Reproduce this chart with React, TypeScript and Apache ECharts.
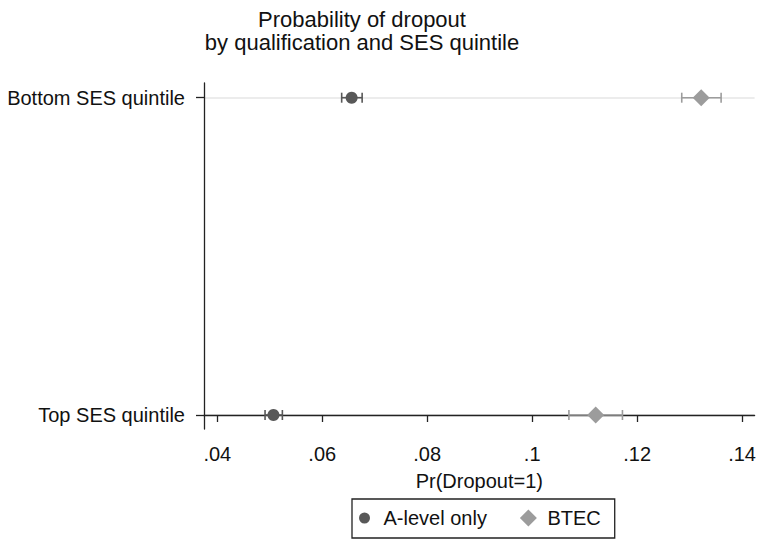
import React, { useEffect, useRef } from "react";
import * as echarts from "echarts";

const categories = ["Top SES quintile", "Bottom SES quintile"];
const aLevelEst = [0.0507, 0.0656];
const aLevelLow = [0.0491, 0.0637];
const aLevelHigh = [0.0524, 0.0676];
const btecEst = [0.1121, 0.1322];
const btecLow = [0.107, 0.1285];
const btecHigh = [0.1172, 0.136];
const xTicks = [0.04, 0.06, 0.08, 0.1, 0.12, 0.14];
const seriesNames = ["A-level only", "BTEC"];

const FONT = "'Liberation Sans', Arial, sans-serif";
const DARK = "#585858";
const LIGHT = "#9c9c9c";

function errorBar(color: string) {
  return (params: any, api: any) => {
    const y = api.value(0);
    const p1 = api.coord([api.value(1), y]);
    const p2 = api.coord([api.value(2), y]);
    const h = 5;
    const style = { stroke: color, lineWidth: 1.6 };
    return {
      type: "group",
      children: [
        { type: "line", shape: { x1: p1[0], y1: p1[1], x2: p2[0], y2: p2[1] }, style },
        { type: "line", shape: { x1: p1[0], y1: p1[1] - h, x2: p1[0], y2: p1[1] + h }, style },
        { type: "line", shape: { x1: p2[0], y1: p2[1] - h, x2: p2[0], y2: p2[1] + h }, style },
      ],
    };
  };
}

export default function App() {
  const ref = useRef<HTMLDivElement>(null);
  useEffect(() => {
    if (!ref.current) return;
    const chart = echarts.init(ref.current, null, { renderer: "svg" });
    const idx = categories.map((_, i) => i);
    chart.setOption({
      animation: false,
      backgroundColor: "#ffffff",
      textStyle: { fontFamily: FONT, color: "#111" },
      title: {
        text: "Probability of dropout\nby qualification and SES quintile",
        left: 362,
        top: 8,
        padding: 0,
        textAlign: "center",
        textStyle: { fontFamily: FONT, fontSize: 22, fontWeight: "normal", color: "#111", lineHeight: 23 },
      },
      grid: { left: 204, right: 0, top: 83, bottom: 110, containLabel: false },
      xAxis: {
        type: "value",
        min: 0.037467,
        max: 0.14238,
        name: "Pr(Dropout=1)",
        nameLocation: "middle",
        nameGap: 42,
        nameTextStyle: { fontFamily: FONT, fontSize: 20, color: "#111" },
        axisLine: { show: true, lineStyle: { color: "#222", width: 1.3 } },
        axisTick: { show: true, customValues: xTicks, length: 7, lineStyle: { color: "#222", width: 1.3 } },
        axisLabel: {
          customValues: xTicks,
          margin: 15,
          fontFamily: FONT,
          fontSize: 20,
          color: "#111",
          formatter: (v: number) => String(v).replace(/^0/, ""),
        },
        splitLine: { show: false },
      },
      yAxis: {
        type: "value",
        min: -0.0441,
        max: 1.0463,
        axisLine: { show: true, lineStyle: { color: "#222", width: 1.3 } },
        axisTick: { show: true, customValues: idx, length: 8, lineStyle: { color: "#222", width: 1.3 } },
        axisLabel: {
          customValues: idx,
          margin: 19,
          fontFamily: FONT,
          fontSize: 20,
          color: "#111",
          formatter: (v: number) => categories[Math.round(v)] ?? "",
        },
        splitLine: { show: false },
      },
      legend: {
        left: 352,
        top: 499,
        padding: [9, 14, 10, 4],
        borderColor: "#222",
        borderWidth: 1.3,
        itemWidth: 24,
        itemHeight: 17,
        itemGap: 33,
        symbolKeepAspect: true,
        textStyle: { fontFamily: FONT, fontSize: 20, color: "#111", padding: [0, 0, 0, 2] },
        data: [
          { name: seriesNames[0], icon: "path://M0,0M17,17M3,8.5a5.5,5.5 0 1,0 11,0a5.5,5.5 0 1,0 -11,0z" },
          { name: seriesNames[1], icon: "path://M0,8.5L8.5,0L17,8.5L8.5,17Z" },
        ],
      },
      series: [
        {
          type: "line",
          data: [],
          silent: true,
          z: 0,
          markLine: {
            silent: true,
            z: 0,
            symbol: "none",
            label: { show: false },
            lineStyle: { color: "#e6e6e6", width: 1.5, type: "solid" },
            data: idx.map((i) => ({ yAxis: i })),
          },
        },
        {
          type: "custom",
          z: 3,
          renderItem: errorBar(DARK),
          encode: { x: [1, 2], y: 0 },
          data: idx.map((i) => [i, aLevelLow[i], aLevelHigh[i]]),
        },
        {
          type: "custom",
          z: 3,
          renderItem: errorBar(LIGHT),
          encode: { x: [1, 2], y: 0 },
          data: idx.map((i) => [i, btecLow[i], btecHigh[i]]),
        },
        {
          name: seriesNames[0],
          type: "scatter",
          z: 4,
          symbol: "circle",
          symbolSize: 12,
          itemStyle: { color: DARK, opacity: 1 },
          data: idx.map((i) => [aLevelEst[i], i]),
        },
        {
          name: seriesNames[1],
          type: "scatter",
          z: 4,
          symbol: "diamond",
          symbolSize: 17,
          itemStyle: { color: LIGHT, opacity: 1 },
          data: idx.map((i) => [btecEst[i], i]),
        },
      ],
    });
    return () => chart.dispose();
  }, []);
  return (
    <div
      ref={ref}
      style={{ position: "fixed", left: 0, top: 0, width: 759, height: 539, background: "#fff" }}
    />
  );
}
